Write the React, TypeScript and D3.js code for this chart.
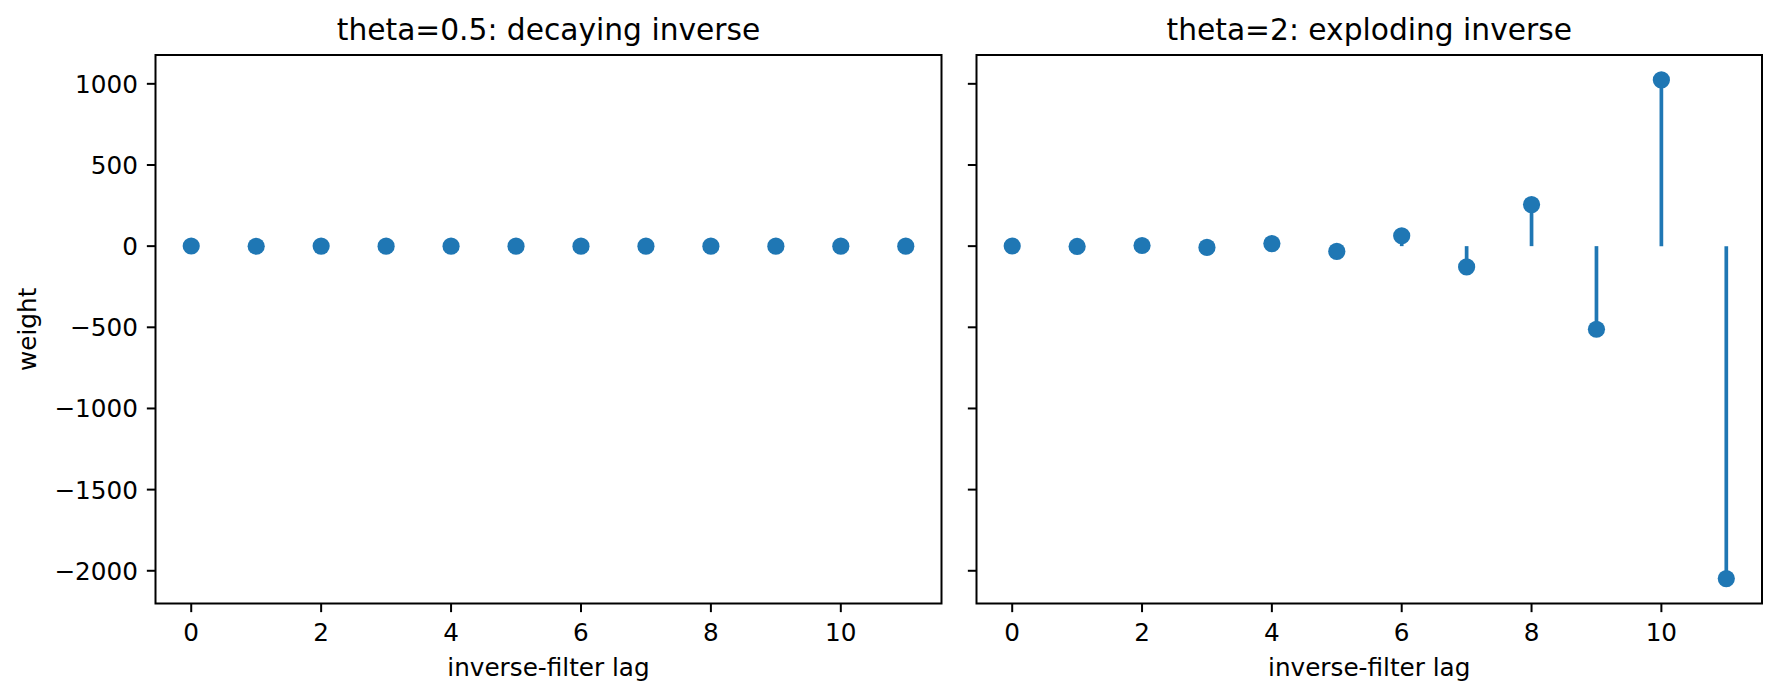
import React from "react";
import * as d3 from "d3";

const lags = [0, 1, 2, 3, 4, 5, 6, 7, 8, 9, 10, 11];
const weightsHalf = [1, -0.5, 0.25, -0.125, 0.0625, -0.03125, 0.015625, -0.0078125, 0.00390625, -0.001953125, 0.0009765625, -0.00048828125];
const weightsTwo = [1, -2, 4, -8, 16, -32, 64, -128, 256, -512, 1024, -2048];
const titles = ["theta=0.5: decaying inverse", "theta=2: exploding inverse"];
const xTicks = [0, 2, 4, 6, 8, 10];
const yTicks = [-2000, -1500, -1000, -500, 0, 500, 1000];

const W = 1779, H = 700;
const FONT = "DejaVu Sans, Liberation Sans, sans-serif";
const BLUE = "#1f77b4";
const top = 55, bottom = 603.5;
const panels = [
  { left: 155.5, right: 941.5, values: weightsHalf, title: titles[0], showY: true },
  { left: 976.5, right: 1762, values: weightsTwo, title: titles[1], showY: false },
];

const pad = (lo: number, hi: number) => {
  const m = (hi - lo) * 0.05;
  return [lo - m, hi + m];
};

const all = [...weightsHalf, ...weightsTwo];
const [yLo, yHi] = pad(d3.min(all) as number, d3.max(all) as number);
const y = d3.scaleLinear().domain([yLo, yHi]).range([bottom, top]);
const fmt = d3.format("d");
const tickLen = 8.65;

const Panel = ({ p }: { p: typeof panels[number] }) => {
  const [xLo, xHi] = pad(d3.min(lags) as number, d3.max(lags) as number);
  const x = d3.scaleLinear().domain([xLo, xHi]).range([p.left, p.right]);
  const cx = (p.left + p.right) / 2;
  return (
    <g>
      {lags.map((l, i) => (
        <line key={"s" + i} x1={x(l)} x2={x(l)} y1={y(0)} y2={y(p.values[i])} stroke={BLUE} strokeWidth={3.7} />
      ))}
      {lags.map((l, i) => (
        <circle key={"m" + i} cx={x(l)} cy={y(p.values[i])} r={8.6} fill={BLUE} />
      ))}
      <rect x={p.left} y={top} width={p.right - p.left} height={bottom - top} fill="none" stroke="#000" strokeWidth={2} />
      {xTicks.map(t => (
        <g key={"x" + t}>
          <line x1={x(t)} x2={x(t)} y1={bottom} y2={bottom + tickLen} stroke="#000" strokeWidth={2} />
          <text x={x(t)} y={640.7} textAnchor="middle" fontSize={24.7} fontFamily={FONT}>{t}</text>
        </g>
      ))}
      {yTicks.map(t => (
        <g key={"y" + t}>
          <line x1={p.left - tickLen} x2={p.left} y1={y(t)} y2={y(t)} stroke="#000" strokeWidth={2} />
          {p.showY && (
            <text x={p.left - 17.6} y={y(t)} dy="0.36em" textAnchor="end" fontSize={24.7} fontFamily={FONT}>{fmt(t)}</text>
          )}
        </g>
      ))}
      <text x={cx} y={40} textAnchor="middle" fontSize={29.7} fontFamily={FONT}>{p.title}</text>
      <text x={cx} y={675.7} textAnchor="middle" fontSize={24.7} fontFamily={FONT}>inverse-filter lag</text>
      {p.showY && (
        <text transform={`translate(36,${(top + bottom) / 2}) rotate(-90)`} textAnchor="middle" fontSize={24.7} fontFamily={FONT}>weight</text>
      )}
    </g>
  );
};

export default function App() {
  return (
    <svg width={W} height={H} viewBox={`0 0 ${W} ${H}`} style={{ position: "absolute", left: 0, top: 0, background: "#fff" }}>
      <rect width={W} height={H} fill="#fff" />
      {panels.map((p, i) => <Panel key={i} p={p} />)}
    </svg>
  );
}
